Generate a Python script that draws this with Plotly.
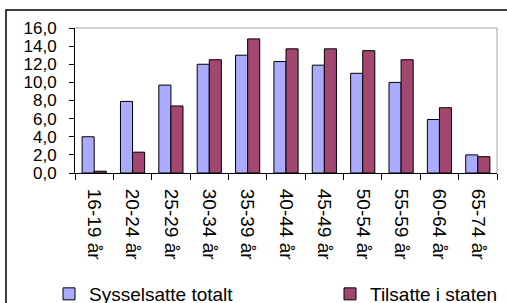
import plotly.graph_objects as go

categories = ["16-19\u00a0år", "20-24\u00a0år", "25-29\u00a0år", "30-34\u00a0år", "35-39\u00a0år",
              "40-44\u00a0år", "45-49\u00a0år", "50-54\u00a0år", "55-59\u00a0år", "60-64\u00a0år",
              "65-74\u00a0år"]
sysselsatte_totalt = [4.0, 7.9, 9.7, 12.0, 13.0, 12.3, 11.9, 11.0, 10.0, 5.9, 2.0]
tilsatte_i_staten = [0.2, 2.3, 7.4, 12.5, 14.8, 13.7, 13.7, 13.5, 12.5, 7.2, 1.8]
y_ticks = [0, 2, 4, 6, 8, 10, 12, 14, 16]

W, H = 507, 303
ML, MR, MT, MB = 75, 10, 28, 130
pw, ph = W - ML - MR, H - MT - MB

def px(x):
    return (x - ML) / pw

def py(y):
    return (H - MB - y) / ph

font = dict(family="Liberation Sans, Arial, sans-serif", size=17, color="black")

fig = go.Figure()
fig.add_trace(go.Bar(x=categories, y=sysselsatte_totalt, name="Sysselsatte totalt",
                     legend="legend",
                     marker=dict(color="#AAAAFF", line=dict(color="black", width=1))))
fig.add_trace(go.Bar(x=categories, y=tilsatte_i_staten, name="Tilsatte i staten",
                     legend="legend2",
                     marker=dict(color="#A34670", line=dict(color="black", width=1))))

shapes = [
    dict(type="rect", xref="paper", yref="paper", x0=px(6), x1=px(520), y0=py(320), y1=py(10),
         line=dict(color="black", width=1.5), fillcolor="rgba(0,0,0,0)", layer="below"),
    dict(type="line", xref="paper", yref="paper", x0=0, x1=1, y0=1, y1=1,
         line=dict(color="#A0A0A0", width=1)),
    dict(type="line", xref="paper", yref="paper", x0=1, x1=1, y0=0, y1=1,
         line=dict(color="#A0A0A0", width=1)),
]

leg = dict(orientation="h", xanchor="left", yanchor="top", font=dict(size=19),
           itemwidth=30, bgcolor="rgba(0,0,0,0)")

fig.update_layout(
    width=W, height=H,
    margin=dict(l=ML, r=MR, t=MT, b=MB, autoexpand=False),
    paper_bgcolor="white", plot_bgcolor="white",
    font=font,
    separators=", ",
    barmode="group", bargap=0.37, bargroupgap=0,
    showlegend=True,
    legend=dict(leg, x=px(49), y=py(275)),
    legend2=dict(leg, x=px(330), y=py(275)),
    shapes=shapes,
    xaxis=dict(type="category", showline=True, linecolor="black", linewidth=1,
               ticks="outside", tickson="boundaries", ticklen=6, tickcolor="black",
               tickangle=90, showgrid=False, tickfont=dict(size=19), automargin=False,
               ticklabelstandoff=11),
    yaxis=dict(range=[0, 16], tickvals=y_ticks, tickformat=".1f", showline=True,
               linecolor="black", linewidth=1, ticks="outside", ticklen=5,
               tickcolor="black", showgrid=False, zeroline=False, tickfont=dict(size=17),
               ticklabelstandoff=9, automargin=False),
)

fig.write_html("out.html", config={"displayModeBar": False},
               post_script="document.body.style.margin='0';")
